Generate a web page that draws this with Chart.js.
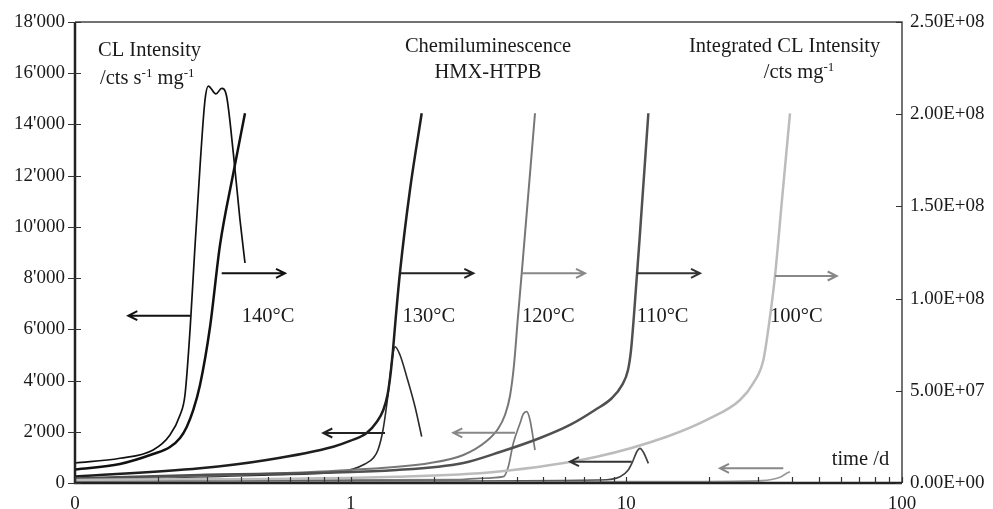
<!DOCTYPE html>
<html>
<head>
<meta charset="utf-8">
<script src="https://cdn.jsdelivr.net/npm/chart.js@4.4.1/dist/chart.umd.min.js"></script>
<style>
  html, body { margin:0; padding:0; background:#fff; }
  #wrap { width:993px; height:509px; position:relative; }
</style>
</head>
<body>
<div id="wrap"><canvas id="c"></canvas></div>
<script>
// ============ CL / integrated CL of HMX-HTPB ============
// time in days (log axis); CL in cts s-1 mg-1 (left), integrated CL in cts mg-1 (right)
const xTicks = [0.1, 1, 10, 100];

const cl140X = [0.1, 0.1455, 0.192, 0.221, 0.2405, 0.2506, 0.2614, 0.271, 0.2841, 0.2962, 0.3045, 0.3247, 0.3405, 0.355, 0.3752, 0.3968, 0.4137];
const cl140Y = [780, 965, 1290, 1875, 2655, 3436, 5974, 8825, 12350, 14955, 15500, 15190, 15410, 15080, 12890, 10270, 8590];
const int140X = [0.1, 0.1455, 0.192, 0.221, 0.2405, 0.2542, 0.2686, 0.2841, 0.3089, 0.3357, 0.3752, 0.4137];
const int140Y = [7.32e6, 1.03e7, 1.57e7, 1.95e7, 2.44e7, 3.04e7, 3.96e7, 5.31e7, 8.46e7, 1.29e8, 1.68e8, 2.005e8];

const cl130X = [0.1, 0.221, 0.5097, 0.8898, 1.0198, 1.127, 1.208, 1.256, 1.31, 1.366, 1.413, 1.448, 1.51, 1.597, 1.712, 1.81];
const cl130Y = [156, 215, 312, 430, 547, 742, 976, 1289, 2070, 3436, 4803, 5322, 4998, 4151, 2979, 1808];
const int130X = [0.1, 0.2841, 0.4958, 0.865, 0.9945, 1.143, 1.243, 1.3135, 1.36, 1.394, 1.424, 1.46, 1.51, 1.641, 1.81];
const int130Y = [3.52e6, 7.97e6, 1.247e7, 1.969e7, 2.28e7, 2.71e7, 3.31e7, 3.96e7, 4.77e7, 5.86e7, 7.21e7, 9.11e7, 1.144e8, 1.589e8, 2.005e8];

const cl120X = [0.1, 0.6549, 2.493, 2.945, 3.579, 3.731, 3.89, 4.115, 4.229, 4.351, 4.472, 4.663];
const cl120Y = [78, 117, 137, 184, 246, 636, 1550, 2331, 2694, 2784, 2460, 1289];
const int120X = [0.1, 0.2841, 0.9945, 1.941, 2.563, 3.115, 3.422, 3.629, 3.784, 3.913, 4.036, 4.173, 4.663];
const int120Y = [1.9e6, 3.8e6, 7.05e6, 1.085e7, 1.52e7, 2.28e7, 2.93e7, 3.69e7, 4.72e7, 6.4e7, 8.84e7, 1.137e8, 2.005e8];

const cl110X = [0.1, 1.51, 8.03, 9.49, 10.16, 10.6, 10.9, 11.21, 11.52, 12.02];
const cl110Y = [59, 78, 117, 246, 508, 898, 1210, 1355, 1210, 769];
const int110X = [0.1, 0.2841, 1.469, 2.563, 3.481, 4.863, 6.246, 7.696, 8.872, 9.645, 10.14, 10.40, 10.66, 11.21, 12.02];
const int110Y = [2.44e6, 4.34e6, 7.05e6, 1.085e7, 1.68e7, 2.44e7, 3.15e7, 3.96e7, 4.61e7, 5.31e7, 6.13e7, 7.21e7, 9.11e7, 1.356e8, 2.005e8];

const cl100X = [0.1, 18.5, 30.99, 36.09, 38.16, 39.24];
const cl100Y = [39, 59, 90, 222, 379, 441];
const int100X = [0.1, 1.469, 3.385, 7.81, 14.01, 19.57, 25.84, 28.88, 31.41, 33.2, 34.62, 36.7, 39.24];
const int100Y = [1.63e6, 3.42e6, 6.13e6, 1.426e7, 2.51e7, 3.42e7, 4.5e7, 5.42e7, 6.67e7, 9.02e7, 1.123e8, 1.535e8, 2.005e8];

// arrows pointing to the axis each curve belongs to (x from -> x to, at left-axis height)
const arrowFrom = [0.2614, 0.3405, 1.510, 4.173, 10.90, 34.62, 1.332, 3.946, 10.46, 37.11];
const arrowTo   = [0.1561, 0.5779, 2.786, 7.08, 18.50, 57.94, 0.7956, 2.357, 6.246, 21.87];
const arrowY    = [6533, 8189, 8189, 8189, 8189, 8083, 1952, 1960, 832, 574];
const arrowCol  = ['#111', '#111', '#222', '#888', '#333', '#888', '#222', '#888', '#333', '#888'];

const tempLabels = ['140°C', '130°C', '120°C', '110°C', '100°C'];
const tempX = [0.4024, 1.542, 4.183, 10.90, 33.2];
const tempY = 6300;

const FONT = "'Liberation Serif', 'Times New Roman', serif";
const INK = '#1a1a1a';
const TXT = 20.5;

const fmtLeft = v => v === 0 ? '0' : String(v).replace(/\B(?=(\d{3})+(?!\d))/g, "'");
function fmtSci(v) {
  if (v === 0) return '0.00E+00';
  const e = Math.floor(Math.log10(v) + 1e-9);
  return (v / Math.pow(10, e)).toFixed(2) + 'E+' + String(e).padStart(2, '0');
}

function series(xs, ys, axis, color, width) {
  return {
    data: xs.map((x, i) => ({x: x, y: ys[i]})),
    yAxisID: axis, borderColor: color, borderWidth: width,
    pointRadius: 0, fill: false, cubicInterpolationMode: 'monotone'
  };
}

// rich text with "-1" superscripts: parts = [[text, isSup], ...]
function drawRich(ctx, parts, x, y, align) {
  const big = TXT + 'px ' + FONT, small = '13px ' + FONT;
  let w = 0;
  parts.forEach(p => { ctx.font = p[1] ? small : big; w += ctx.measureText(p[0]).width; });
  let cx = align === 'center' ? x - w / 2 : x;
  ctx.textAlign = 'left';
  ctx.textBaseline = 'alphabetic';
  parts.forEach(p => {
    ctx.font = p[1] ? small : big;
    ctx.fillText(p[0], cx, p[1] ? y - 7 : y);
    cx += ctx.measureText(p[0]).width;
  });
}

const figurePlugin = {
  id: 'figure',
  afterDraw(chart) {
    const {ctx, chartArea: a, scales} = chart;
    const x = scales.x, y = scales.y;
    ctx.save();

    // frame
    ctx.strokeStyle = '#444'; ctx.lineWidth = 1.5;
    ctx.beginPath();
    ctx.moveTo(a.left, a.top); ctx.lineTo(a.right, a.top); ctx.lineTo(a.right, a.bottom);
    ctx.stroke();
    ctx.strokeStyle = '#222'; ctx.lineWidth = 2.5;
    ctx.beginPath();
    ctx.moveTo(a.left, a.top); ctx.lineTo(a.left, a.bottom); ctx.lineTo(a.right, a.bottom);
    ctx.stroke();

    // tick marks
    ctx.lineWidth = 1.2; ctx.strokeStyle = '#333';
    ctx.beginPath();
    y.ticks.forEach(t => {
      const py = Math.round(y.getPixelForValue(t.value)) + 0.5;
      ctx.moveTo(a.left - 7, py); ctx.lineTo(a.left + 6, py);
    });
    scales.y2.ticks.forEach(t => {
      const py = Math.round(scales.y2.getPixelForValue(t.value)) + 0.5;
      ctx.moveTo(a.right - 6, py); ctx.lineTo(a.right, py);
    });
    for (let dec = 0.1; dec < 100; dec *= 10) {
      for (let k = 1; k <= 10; k++) {
        const px = Math.round(x.getPixelForValue(dec * k)) + 0.5;
        ctx.moveTo(px, a.bottom); ctx.lineTo(px, a.bottom - 6);
      }
    }
    ctx.stroke();

    // arrows
    arrowFrom.forEach((x0, i) => {
      const px0 = x.getPixelForValue(x0), px1 = x.getPixelForValue(arrowTo[i]);
      const py = y.getPixelForValue(arrowY[i]);
      const dir = px1 > px0 ? 1 : -1;
      ctx.strokeStyle = arrowCol[i]; ctx.lineWidth = 2;
      ctx.beginPath();
      ctx.moveTo(px0, py); ctx.lineTo(px1, py);
      ctx.moveTo(px1 - dir * 9, py - 4.5); ctx.lineTo(px1, py); ctx.lineTo(px1 - dir * 9, py + 4.5);
      ctx.stroke();
    });

    // texts
    ctx.fillStyle = INK;
    ctx.font = TXT + 'px ' + FONT;
    ctx.textAlign = 'left'; ctx.textBaseline = 'alphabetic';
    tempLabels.forEach((t, i) => ctx.fillText(t, x.getPixelForValue(tempX[i]), y.getPixelForValue(tempY)));
    ctx.fillText('time /d', x.getPixelForValue(55.6), y.getPixelForValue(703));

    drawRich(ctx, [['CL Intensity', false]], x.getPixelForValue(0.1212), y.getPixelForValue(16654), 'left');
    drawRich(ctx, [['/cts s', false], ['-1', true], [' mg', false], ['-1', true]],
      x.getPixelForValue(0.1232), y.getPixelForValue(15581), 'left');
    drawRich(ctx, [['Chemiluminescence', false]], x.getPixelForValue(3.149), y.getPixelForValue(16830), 'center');
    drawRich(ctx, [['HMX-HTPB', false]], x.getPixelForValue(3.149), y.getPixelForValue(15803), 'center');
    drawRich(ctx, [['Integrated CL Intensity', false]], x.getPixelForValue(37.53), y.getPixelForValue(16830), 'center');
    drawRich(ctx, [['/cts mg', false], ['-1', true]], x.getPixelForValue(42.3), y.getPixelForValue(15795), 'center');

    ctx.restore();
  }
};

Chart.defaults.font.family = FONT;
Chart.defaults.font.size = 19;
Chart.defaults.color = INK;

new Chart(document.getElementById('c'), {
  type: 'line',
  data: {
    datasets: [
      series(int100X, int100Y, 'y2', '#bcbcbc', 2.5),
      series(cl100X, cl100Y, 'y', '#999', 1.7),
      series(int110X, int110Y, 'y2', '#505050', 2.5),
      series(cl110X, cl110Y, 'y', '#444', 1.7),
      series(int120X, int120Y, 'y2', '#777', 2),
      series(cl120X, cl120Y, 'y', '#777', 1.7),
      series(int130X, int130Y, 'y2', '#1e1e1e', 2.5),
      series(cl130X, cl130Y, 'y', '#2a2a2a', 1.6),
      series(int140X, int140Y, 'y2', '#111', 2.5),
      series(cl140X, cl140Y, 'y', '#111', 1.7)
    ]
  },
  options: {
    responsive: true,
    maintainAspectRatio: false,
    animation: false,
    devicePixelRatio: 1,
    layout: {padding: {top: 22, left: 0, right: 0, bottom: 0}},
    plugins: {legend: {display: false}, tooltip: {enabled: false}},
    scales: {
      x: {
        type: 'logarithmic', min: 0.1, max: 100, position: 'bottom',
        grid: {display: false, drawTicks: false}, border: {display: false},
        ticks: {padding: 10, maxRotation: 0, autoSkip: false, color: INK,
                callback: v => v === 0.1 ? '0' : String(v)},
        afterBuildTicks: s => { s.ticks = xTicks.map(v => ({value: v})); },
        afterFit: s => { s.height = 26; }
      },
      y: {
        position: 'left', min: 0, max: 18000,
        grid: {display: false, drawTicks: false}, border: {display: false},
        ticks: {stepSize: 2000, padding: 10, color: INK, callback: fmtLeft},
        afterFit: s => { s.width = 75; }
      },
      y2: {
        position: 'right', min: 0, max: 2.5e8,
        grid: {display: false, drawTicks: false}, border: {display: false},
        ticks: {stepSize: 5e7, padding: 8, color: INK, callback: fmtSci},
        afterFit: s => { s.width = 91; }
      }
    }
  },
  plugins: [figurePlugin]
});
</script>
</body>
</html>
